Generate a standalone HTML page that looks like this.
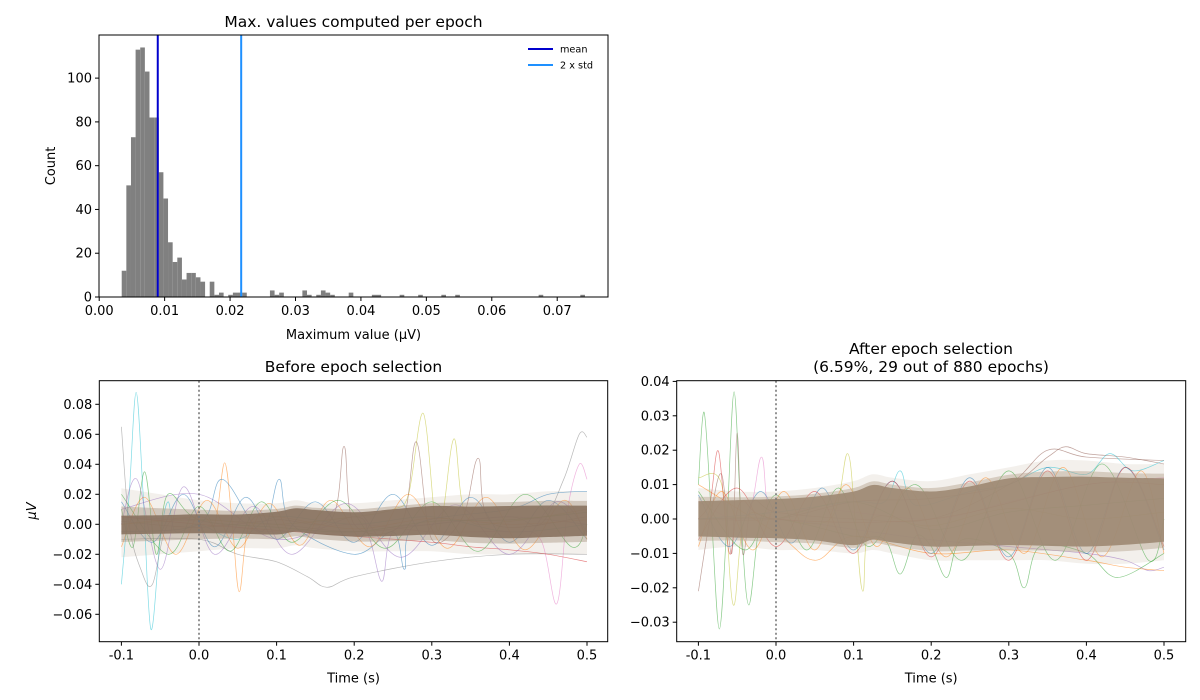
<!DOCTYPE html>
<html><head><meta charset="utf-8"><style>
html,body{margin:0;padding:0;background:#fff;}
svg{display:block;font-family:"DejaVu Sans","Liberation Sans",sans-serif;}
</style></head><body>
<svg id="fig" width="1200" height="700" viewBox="0 0 1200 700"></svg>
<script>
// ---------- histogram data ----------
const histBinStart = 0.00344;
const histBinWidth = 0.000708;
const histCounts = [12,51,73,113,114,103,82,82,57,45,25,16,18,8,11,11,9,7,0,7,1,2,0,1,2,2,2,0,0,0,0,0,3,1,2,0,0,0,0,3,1,0,1,3,2,1,0,0,0,2,0,0,0,0,1,1,0,0,0,0,1,0,0,0,1,0,0,0,0,1,0,0,1,0,0,0,0,0,0,0,0,0,0,0,0,0,0,0,0,0,1,0,0,0,0,0,0,0,0,1];
const histMean = 0.00895;
const histTwoStd = 0.0217;
const histXTicks = [0.00,0.01,0.02,0.03,0.04,0.05,0.06,0.07];
const histYTicks = [0,20,40,60,80,100];

// ---------- epoch plots data ----------
const timeTicks = [-0.1,0.0,0.1,0.2,0.3,0.4,0.5];
const beforeYTicks = [-0.06,-0.04,-0.02,0.00,0.02,0.04,0.06,0.08];
const afterYTicks = [-0.03,-0.02,-0.01,0.00,0.01,0.02,0.03,0.04];
const bandTimes = [-0.1,-0.05,0,0.05,0.1,0.125,0.15,0.2,0.25,0.3,0.35,0.4,0.45,0.5];
const beforeCoreTop = [0.0058,0.006,0.0067,0.0065,0.0084,0.0107,0.0095,0.008,0.010,0.0122,0.0118,0.0122,0.0125,0.0124];
const beforeCoreBot = [-0.0067,-0.0063,-0.006,-0.0062,-0.0068,-0.005,-0.0065,-0.0082,-0.0078,-0.007,-0.0085,-0.0093,-0.0085,-0.0076];
const beforeHaloTop = [0.024,0.02,0.016,0.014,0.014,0.016,0.014,0.014,0.016,0.018,0.02,0.02,0.022,0.022];
const beforeHaloBot = [-0.022,-0.02,-0.018,-0.016,-0.016,-0.014,-0.016,-0.018,-0.018,-0.018,-0.02,-0.02,-0.02,-0.02];
const afterCoreTop = [0.0052,0.0055,0.0058,0.0065,0.008,0.0099,0.009,0.008,0.0095,0.0118,0.0122,0.0123,0.012,0.0118];
const afterCoreBot = [-0.0051,-0.0054,-0.0056,-0.0062,-0.0076,-0.006,-0.0068,-0.008,-0.0078,-0.0076,-0.0078,-0.008,-0.0075,-0.0066];
const afterHaloTop = [0.009,0.008,0.008,0.009,0.011,0.013,0.012,0.011,0.013,0.015,0.017,0.017,0.016,0.016];
const afterHaloBot = [-0.009,-0.008,-0.009,-0.009,-0.01,-0.009,-0.01,-0.012,-0.012,-0.012,-0.012,-0.013,-0.013,-0.012];

const beforeTraces = [
 {c:'#17becf',t:[-0.1,-0.09,-0.081,-0.072,-0.062,-0.05,-0.04,-0.03,0.0,0.05,0.1,0.2,0.3,0.4,0.5],v:[-0.04,0.02,0.088,0.02,-0.07,-0.01,0.015,-0.005,0.0,-0.01,0.005,0,0.005,-0.005,0]},
 {c:'#7f7f7f',t:[-0.1,-0.09,-0.075,-0.06,-0.04,0,0.1,0.2,0.3,0.4,0.44,0.47,0.49,0.5],v:[0.065,0.0,-0.03,-0.04,0.0,0.003,0,-0.005,0,0.005,0.0,0.03,0.06,0.058]},
 {c:'#bcbd22',t:[-0.1,0,0.1,0.2,0.25,0.27,0.289,0.305,0.315,0.329,0.345,0.4,0.5],v:[0,0.003,0,0.005,0.01,0.02,0.074,0.0,0.01,0.057,0.005,0.002,0.01]},
 {c:'#8c564b',t:[-0.1,0,0.1,0.17,0.187,0.2,0.26,0.28,0.3,0.34,0.36,0.38,0.5],v:[0.002,-0.002,0.003,0.003,0.052,0.0,0.0,0.055,-0.01,0.005,0.044,0.0,0.005]},
 {c:'#e377c2',t:[-0.1,0,0.1,0.2,0.3,0.4,0.44,0.461,0.475,0.49,0.5],v:[0.005,0.002,-0.005,0.0,-0.005,-0.005,-0.01,-0.053,0.01,0.04,0.03]},
 {c:'#7f7f7f',t:[-0.1,0,0.05,0.1,0.14,0.165,0.2,0.3,0.4,0.5],v:[-0.01,-0.01,-0.02,-0.025,-0.035,-0.042,-0.035,-0.025,-0.02,-0.02]},
 {c:'#ff7f0e',t:[-0.1,0,0.02,0.033,0.043,0.052,0.065,0.1,0.2,0.3,0.4,0.5],v:[0,0.005,0.0,0.041,0.0,-0.045,0.0,0.005,-0.003,0.004,0.0,0.003]},
 {c:'#9467bd',t:[-0.1,0,0.1,0.2,0.22,0.236,0.25,0.3,0.4,0.5],v:[0.01,0.02,-0.01,0.005,-0.01,-0.038,-0.005,0.0,0.005,0.0]},
 {c:'#1f77b4',t:[-0.1,0,0.03,0.08,0.103,0.12,0.2,0.25,0.265,0.28,0.4,0.45,0.5],v:[-0.005,0.0,0.03,-0.005,0.03,0.0,-0.02,-0.005,-0.03,0.0,0.01,0.02,0.022]},
 {c:'#2ca02c',t:[-0.1,-0.085,-0.07,-0.055,-0.04,0,0.1,0.2,0.3,0.4,0.5],v:[0.01,-0.015,0.035,-0.02,0.02,0.003,-0.002,-0.005,0.002,0.003,0.008]},
 {c:'#d62728',t:[-0.1,0,0.1,0.2,0.3,0.35,0.4,0.45,0.5],v:[0.005,0,-0.004,-0.008,-0.012,-0.015,-0.017,-0.02,-0.025]},
 {c:'#1f77b4',t:[-0.1,-0.06,-0.02,0.02,0.06,0.1,0.15,0.2,0.25,0.3,0.35,0.4,0.45,0.5],v:[0.015,-0.012,0.02,-0.015,0.018,-0.01,0.015,-0.012,0.02,-0.014,0.018,-0.012,0.016,-0.01]},
 {c:'#ff7f0e',t:[-0.1,-0.07,-0.03,0.01,0.05,0.09,0.13,0.17,0.22,0.27,0.32,0.37,0.42,0.47,0.5],v:[-0.015,0.018,-0.02,0.016,-0.016,0.014,-0.014,0.016,-0.015,0.02,-0.016,0.018,-0.017,0.016,-0.01]},
 {c:'#2ca02c',t:[-0.1,-0.04,0.0,0.04,0.08,0.12,0.18,0.24,0.3,0.36,0.42,0.48,0.5],v:[0.02,-0.02,0.012,-0.018,0.015,-0.012,0.016,-0.016,0.015,-0.018,0.02,-0.015,0.0]},
 {c:'#9467bd',t:[-0.1,-0.08,-0.05,-0.02,0.02,0.07,0.12,0.19,0.26,0.33,0.4,0.46,0.5],v:[0.0,0.03,-0.03,0.025,-0.02,0.012,-0.02,0.014,-0.022,0.013,-0.02,0.015,-0.005]}
];
const afterTraces = [
 {c:'#2ca02c',t:[-0.1,-0.0926,-0.083,-0.073,-0.063,-0.054,-0.045,-0.035,-0.02,0,0.1,0.2,0.3,0.4,0.5],v:[0.01,0.031,0.0,-0.032,0.0,0.037,0.0,-0.025,0.0,0.0,0.005,-0.003,0.002,0.004,0.006]},
 {c:'#8c564b',t:[-0.1,-0.085,-0.07,-0.057,-0.05,-0.043,-0.03,0,0.1,0.2,0.3,0.35,0.4,0.5],v:[-0.021,0.0,0.013,-0.01,0.025,-0.01,0.005,0.002,0.0,0.0,0.01,0.02,0.018,0.017]},
 {c:'#bcbd22',t:[-0.1,-0.07,-0.055,-0.04,0,0.07,0.092,0.102,0.112,0.125,0.2,0.3,0.4,0.5],v:[0.012,0.01,-0.025,0.0,0.0,0.0,0.019,0.0,-0.021,0.0,-0.002,0.003,0.0,0.002]},
 {c:'#17becf',t:[-0.1,0,0.1,0.14,0.16,0.18,0.25,0.3,0.35,0.4,0.43,0.46,0.5],v:[0.0,0.002,0.005,0.005,0.014,0.004,0.008,0.01,0.015,0.013,0.019,0.014,0.017]},
 {c:'#8c564b',t:[-0.1,0,0.1,0.2,0.3,0.35,0.373,0.4,0.45,0.5],v:[0,0.0,0.005,0.006,0.01,0.018,0.021,0.019,0.018,0.016]},
 {c:'#2ca02c',t:[-0.1,0,0.1,0.14,0.16,0.18,0.2,0.22,0.24,0.3,0.32,0.34,0.4,0.44,0.5],v:[0,0.0,-0.005,-0.006,-0.016,-0.005,-0.008,-0.017,-0.006,-0.01,-0.02,-0.008,-0.01,-0.017,-0.01]},
 {c:'#9467bd',t:[-0.1,0,0.1,0.2,0.3,0.4,0.45,0.48,0.5],v:[0,0,-0.003,-0.006,-0.008,-0.01,-0.012,-0.015,-0.014]},
 {c:'#ff7f0e',t:[-0.1,0,0.05,0.1,0.2,0.3,0.4,0.45,0.5],v:[0.01,-0.004,-0.012,-0.005,-0.01,-0.009,-0.012,-0.014,-0.015]},
 {c:'#e377c2',t:[-0.1,-0.04,-0.0187,-0.005,0.05,0.2,0.3,0.4,0.5],v:[0.005,0.0,0.018,0.0,0.003,0.0,0.005,0.01,0.012]},
 {c:'#d62728',t:[-0.1,-0.085,-0.074,-0.06,-0.045,0,0.2,0.4,0.5],v:[0.0,0.005,0.0196,-0.01,0.005,0.0,0.0,0.01,0.01]},
 {c:'#1f77b4',t:[-0.1,-0.06,-0.02,0.02,0.06,0.1,0.15,0.2,0.25,0.3,0.35,0.4,0.45,0.5],v:[0.007,-0.008,0.008,-0.007,0.009,-0.009,0.011,-0.01,0.012,-0.011,0.015,-0.01,0.015,-0.009]},
 {c:'#ff7f0e',t:[-0.1,-0.07,-0.03,0.01,0.05,0.09,0.13,0.17,0.22,0.27,0.32,0.37,0.42,0.47,0.5],v:[-0.008,0.008,-0.009,0.008,-0.009,0.01,-0.008,0.009,-0.011,0.012,-0.01,0.015,-0.011,0.014,-0.01]},
 {c:'#2ca02c',t:[-0.1,-0.04,0.0,0.04,0.08,0.12,0.18,0.24,0.3,0.36,0.42,0.48,0.5],v:[0.008,-0.009,0.007,-0.009,0.009,-0.008,0.01,-0.012,0.014,-0.012,0.016,-0.012,0.0]},
 {c:'#d62728',t:[-0.1,-0.05,0.0,0.05,0.1,0.15,0.2,0.25,0.3,0.35,0.4,0.45,0.5],v:[-0.006,0.009,-0.008,0.008,-0.01,0.011,-0.011,0.011,-0.012,0.014,-0.012,0.015,-0.008]}
];

const NS='http://www.w3.org/2000/svg';
const svg=document.getElementById('fig');
function el(tag,attrs,parent){const e=document.createElementNS(NS,tag);for(const k in attrs)e.setAttribute(k,attrs[k]);(parent||svg).appendChild(e);return e;}
function txt(s,attrs,parent){const e=el('text',attrs,parent);e.textContent=s;return e;}

function smoothPath(pts){
  let d='M'+pts[0][0].toFixed(2)+','+pts[0][1].toFixed(2);
  for(let i=0;i<pts.length-1;i++){
    const p0=pts[Math.max(0,i-1)],p1=pts[i],p2=pts[i+1],p3=pts[Math.min(pts.length-1,i+2)];
    const c1=[p1[0]+(p2[0]-p0[0])/6,p1[1]+(p2[1]-p0[1])/6];
    const c2=[p2[0]-(p3[0]-p1[0])/6,p2[1]-(p3[1]-p1[1])/6];
    d+='C'+c1[0].toFixed(2)+','+c1[1].toFixed(2)+' '+c2[0].toFixed(2)+','+c2[1].toFixed(2)+' '+p2[0].toFixed(2)+','+p2[1].toFixed(2);
  }
  return d;
}

// ---------- histogram ----------
(function(){
  const L=99,R=608,T=35,B=297;
  const xs=v=>99.2+v*6543;
  const ys=c=>B-c*(B-T)/119.7;
  const g=el('g',{});
  
  
  histCounts.forEach((c,i)=>{
    if(c<=0)return;
    const x0=xs(histBinStart+i*histBinWidth),x1=xs(histBinStart+(i+1)*histBinWidth);
    const r=el('rect',{x:x0,y:ys(c),width:x1-x0,height:B-ys(c),fill:'#808080'},g);
    
    
  });
  const m=el('line',{x1:xs(histMean),x2:xs(histMean),y1:T,y2:B,stroke:'#0000cd','stroke-width':2},g);
  
  
  const s=el('line',{x1:xs(histTwoStd),x2:xs(histTwoStd),y1:T,y2:B,stroke:'#1e90ff','stroke-width':2},g);
  
  
  const fr=el('rect',{x:L,y:T,width:R-L,height:B-T,fill:'none',stroke:'#000','stroke-width':1});
  
  
  histXTicks.forEach(v=>{
    const x=xs(v);
    el('line',{x1:x,x2:x,y1:B,y2:B+4,stroke:'#000'});
    const t=txt(v.toFixed(2),{x:x,y:B+18,'font-size':13,'text-anchor':'middle'});
    
    
  });
  histYTicks.forEach(v=>{
    const y=ys(v);
    el('line',{x1:L-4,x2:L,y1:y,y2:y,stroke:'#000'});
    const t=txt(String(v),{x:L-7,y:y+4.5,'font-size':13,'text-anchor':'end'});
    
    
  });
  const lg=el('g',{});
  
  
  el('line',{x1:528,x2:553,y1:49,y2:49,stroke:'#0000cd','stroke-width':2},lg);
  txt('mean',{x:560,y:52.5,'font-size':9.7},lg);
  el('line',{x1:528,x2:553,y1:65,y2:65,stroke:'#1e90ff','stroke-width':2},lg);
  txt('2 x std',{x:560,y:68.5,'font-size':9.7},lg);
})();
{
 const t1=txt('Max. values computed per epoch',{x:353.5,y:27,'font-size':15.5,'text-anchor':'middle'});
 
 
 const t2=txt('Maximum value (μV)',{x:353.5,y:339,'font-size':13,'text-anchor':'middle'});
 
 
 const t3=txt('Count',{x:0,y:0,'font-size':13,'text-anchor':'middle',transform:'translate(55,166) rotate(-90)'});
 
 
}

// ---------- epoch plots ----------
function epochPlot(opt){
  const {L,R,T,B,x0,xPer,y0,yPer,yTicks,coreTop,coreBot,haloTop,haloBot,traces,coreFill,midFill,name}=opt;
  const xs=t=>x0+t*xPer;
  const ys=v=>y0-v*yPer;
  const clipId='clip-'+name;
  const cp=el('clipPath',{id:clipId});
  el('rect',{x:L,y:T,width:R-L,height:B-T},cp);
  const g=el('g',{'clip-path':'url(#'+clipId+')'});
  
  
  function band(top,bot,fill,op){
    const up=bandTimes.map((t,i)=>[xs(t),ys(top[i])]);
    const dn=bandTimes.map((t,i)=>[xs(t),ys(bot[i])]).reverse();
    let d=smoothPath(up)+'L'+smoothPath(dn).slice(1)+'Z';
    return el('path',{d:d,fill:fill,'fill-opacity':op,stroke:'none'},g);
  }
  const h=band(haloTop,haloBot,'#c9b9aa',0.22);
  
  
  traces.forEach(tr=>{
    const p=el('path',{d:smoothPath(tr.t.map((t,i)=>[xs(t),ys(tr.v[i])])),fill:'none',stroke:tr.c,'stroke-width':0.7,'stroke-opacity':0.55},g);
    
    
  });
  const midTop=coreTop.map((v,i)=>(v*2+haloTop[i])/3);
  const midBot=coreBot.map((v,i)=>(v*2+haloBot[i])/3);
  const mb=band(midTop,midBot,midFill,0.45);
  
  
  const c=band(coreTop,coreBot,coreFill,0.92);
  
  
  const z=el('line',{x1:xs(0),x2:xs(0),y1:T,y2:B,stroke:'#777','stroke-width':1.6,'stroke-dasharray':'2,2.5'});
  
  
  const fr=el('rect',{x:L,y:T,width:R-L,height:B-T,fill:'none',stroke:'#000','stroke-width':1});
  
  
  timeTicks.forEach(v=>{
    const x=xs(v);
    el('line',{x1:x,x2:x,y1:B,y2:B+4,stroke:'#000'});
    const t=txt(v.toFixed(1),{x:x,y:B+18,'font-size':13,'text-anchor':'middle'});
    
    
  });
  yTicks.forEach(v=>{
    const y=ys(v);
    el('line',{x1:L-4,x2:L,y1:y,y2:y,stroke:'#000'});
    const t=txt(v.toFixed(2).replace('-','−'),{x:L-7,y:y+4.5,'font-size':13,'text-anchor':'end'});
    
    
  });
  const xl=txt('Time (s)',{x:(L+R)/2,y:B+41,'font-size':13,'text-anchor':'middle'});
  
  
}
epochPlot({name:'before',L:99.3,R:607.7,T:380.7,B:641.7,x0:199,xPer:776,y0:524.3,yPer:1500,yTicks:beforeYTicks,coreTop:beforeCoreTop,coreBot:beforeCoreBot,haloTop:beforeHaloTop,haloBot:beforeHaloBot,traces:beforeTraces,coreFill:'#8a7462',midFill:'#a89482'});
epochPlot({name:'after',L:676.7,R:1185.7,T:380.7,B:641.7,x0:776,xPer:776,y0:519,yPer:3440,yTicks:afterYTicks,coreTop:afterCoreTop,coreBot:afterCoreBot,haloTop:afterHaloTop,haloBot:afterHaloBot,traces:afterTraces,coreFill:'#9e8a74',midFill:'#b3a08c'});
{
 const a=txt('Before epoch selection',{x:353.5,y:372,'font-size':15.5,'text-anchor':'middle'});
 
 
 const b=txt('After epoch selection',{x:931,y:354,'font-size':15.5,'text-anchor':'middle'});
 
 
 const c=txt('(6.59%, 29 out of 880 epochs)',{x:931,y:372,'font-size':15.5,'text-anchor':'middle'});
 
 
 const d=txt('μV',{x:0,y:0,'font-size':13,'text-anchor':'middle','font-style':'italic',transform:'translate(36,511) rotate(-90)'});
 
 
}
</script>
</body></html>
